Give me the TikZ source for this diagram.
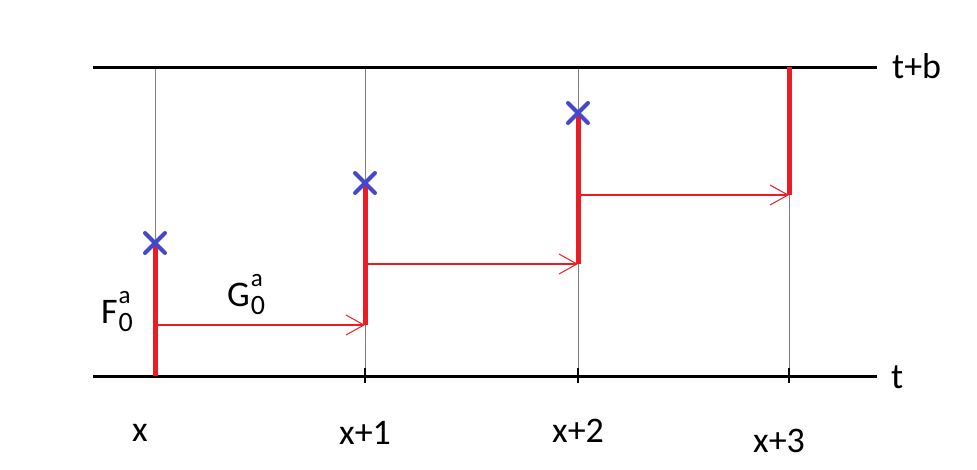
\documentclass[tikz,border=0pt]{standalone}
\usepackage{fontspec}
\setmainfont{Carlito}
\usetikzlibrary{arrows.meta}
\definecolor{rd}{RGB}{237,28,36}
\definecolor{bl}{RGB}{68,72,204}
\newcommand{\mysupsub}[2]{\kern1pt\rlap{\raisebox{20pt}{\fontsize{25}{25}\selectfont #1}}\raisebox{-8pt}{\fontsize{28}{28}\selectfont #2}}
\tikzset{
  axis/.style={line width=3pt,black},
  grid/.style={line width=0.9pt,gray},
  tick/.style={line width=2.5pt,black},
  bar/.style={line width=5pt,rd},
  flow/.style={line width=1.2pt,rd,-{Straight Barb[length=18pt,width=20pt,line width=1pt]}},
  cross/.style={line width=4pt,bl,line cap=round},
  lbl/.style={font=\fontsize{36}{40}\selectfont,inner sep=0pt,anchor=base west}
}
\begin{document}
\begin{tikzpicture}[x=1pt,y=-1pt]
\useasboundingbox (0,0) rectangle (977,469);
% axes
\coordinate (tl) at (93,67); \coordinate (tr) at (877,67);
\coordinate (bl) at (93,376); \coordinate (br) at (877,376);
% columns
\foreach \n/\x in {0/155,1/365,2/578,3/789}{
  \coordinate (top\n) at (\x,67);
  \coordinate (bot\n) at (\x,376);
  \coordinate (tka\n) at (\x,368);
  \coordinate (tkb\n) at (\x,383);
  \draw[grid] (top\n) -- (bot\n);
}
\foreach \n in {1,2,3}{ \draw[tick] (tka\n) -- (tkb\n); }
\draw[axis] (tl) -- (tr);
\draw[axis] (bl) -- (br);
% bars
\coordinate (b0t) at (155,243); \coordinate (b0b) at (155,376);
\coordinate (b1t) at (365,183); \coordinate (b1b) at (365,325);
\coordinate (b2t) at (578,113); \coordinate (b2b) at (578,264);
\coordinate (b3t) at (789,67);  \coordinate (b3b) at (789,195);
\draw[bar] (b0t) -- (b0b);
\draw[bar] (b1t) -- (b1b);
\draw[bar] (b2t) -- (b2b);
\draw[bar] (b3t) -- (b3b);
% arrows
\coordinate (a0s) at (155,325);
\coordinate (a1s) at (365,264);
\coordinate (a2s) at (578,195);
\draw[flow] (a0s) -- (b1b);
\draw[flow] (a1s) -- (b2b);
\draw[flow] (a2s) -- (b3b);
% crosses
\foreach \c in {b0t,b1t,b2t}{
  \draw[cross] ([shift={(-10,-10)}]\c) -- ([shift={(10,10)}]\c);
  \draw[cross] ([shift={(-10,10)}]\c) -- ([shift={(10,-10)}]\c);
}
% labels
\node[lbl] (F) at (101,323) {F\mysupsub{a}{0}};
\node[lbl] (G) at (227,306) {G\mysupsub{a}{0}};
\node[lbl] (ltb) at (892,78) {t+b};
\node[lbl] (lt) at (891,388) {t};
\node[lbl] (lx0) at (132,441) {x};
\node[lbl] (lx1) at (339,444) {x+1};
\node[lbl] (lx2) at (552,442) {x+2};
\node[lbl] (lx3) at (753,452) {x+3};
\end{tikzpicture}
\end{document}
